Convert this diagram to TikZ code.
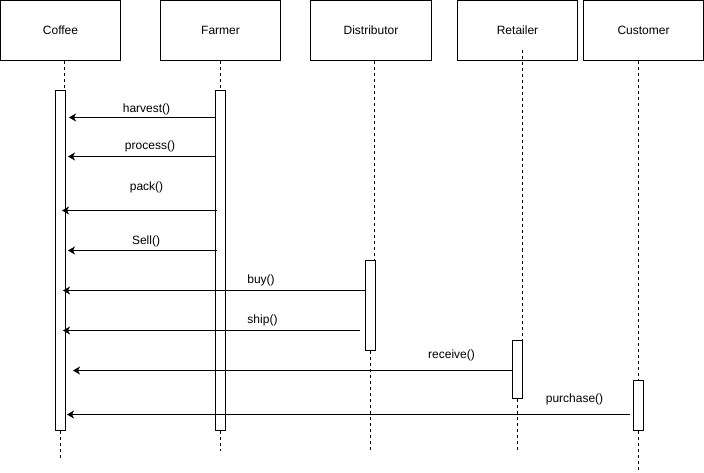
\documentclass[tikz,border=0pt]{standalone}
\usepackage{fontspec}
\setmainfont{Liberation Sans}
\usetikzlibrary{arrows.meta}

\tikzset{
  actor/.style={draw, minimum width=120pt, minimum height=60pt, inner sep=0pt},
  activation/.style={draw, fill=white, minimum width=10pt, inner sep=0pt},
  lifeline/.style={dash pattern=on 3pt off 3pt},
  msg/.style={-{Stealth[length=7pt,width=8pt,inset=2pt]}},
}

\begin{document}
\begin{tikzpicture}[x=1pt, y=-1pt, line width=1pt, font=\fontsize{12}{14}\selectfont]
    \useasboundingbox (-0.5,-0.5) rectangle (703.5,472.5);

    % Define nodes
    \node[actor] (Coffee) at (60,30) {Coffee};
    \node[actor] (Farmer) at (220,30) {Farmer};
    \node[actor, minimum width=121pt] (Distributor) at (370.5,30) {Distributor};
    \node[actor] (Retailer) at (517,30) {Retailer};
    \node[actor] (Customer) at (643,30) {Customer};

    \node[activation, minimum height=340pt] (CoffeeAct) at (60,260) {};
    \node[activation, minimum height=340pt] (FarmerAct) at (220,260) {};
    \node[activation, minimum height=90pt] (DistributorAct) at (370,305) {};
    \node[activation, minimum height=58pt] (RetailerAct) at (517,369) {};
    \node[activation, minimum height=50pt] (CustomerAct) at (638,405) {};

    % Lifeline ends
    \coordinate (CoffeeEnd) at (60,460);
    \coordinate (FarmerEnd) at (220,450);
    \coordinate (DistributorEnd) at (370,450);
    \coordinate (RetailerTop) at (522,50);
    \coordinate (RetailerEnd) at (517,450);
    \coordinate (CustomerEnd) at (638,470);

    % Draw lifelines
    \draw[lifeline] ([xshift=4pt]Coffee.south) -- ([xshift=4pt]CoffeeAct.north);
    \draw[lifeline] (CoffeeAct.south) -- (CoffeeEnd);
    \draw[lifeline] (Farmer.south) -- (FarmerAct.north);
    \draw[lifeline] (FarmerAct.south) -- (FarmerEnd);
    \draw[lifeline] (Distributor.south -| 374,0) -- (DistributorAct.north -| 374,0);
    \draw[lifeline] (DistributorAct.south) -- (DistributorEnd);
    \draw[lifeline] (RetailerTop) -- (RetailerAct.north -| RetailerTop);
    \draw[lifeline] (RetailerAct.south) -- (RetailerEnd);
    \draw[lifeline] (Customer.south -| CustomerAct) -- (CustomerAct.north);
    \draw[lifeline] (CustomerAct.south) -- (CustomerEnd);

    % Draw arrows
    \draw[msg, shorten >=3pt] (FarmerAct.west |- 0,117) -- (CoffeeAct.east |- 0,117);
    \draw[msg, shorten >=2pt] (FarmerAct.west |- 0,156) -- (CoffeeAct.east |- 0,156);
    \draw[msg, shorten >=-4pt, shorten <=-2pt] (FarmerAct.west |- 0,210) -- (CoffeeAct.east |- 0,210);
    \draw[msg, shorten >=2pt, shorten <=-2pt] (FarmerAct.west |- 0,250) -- (CoffeeAct.east |- 0,250);
    \draw[msg, shorten >=-3pt] (DistributorAct.west |- 0,290) -- (CoffeeAct.east |- 0,290);
    \draw[msg, shorten >=-3pt, shorten <=5pt] (DistributorAct.west |- 0,330) -- (CoffeeAct.east |- 0,330);
    \draw[msg, shorten >=7pt] (RetailerAct.west |- 0,370) -- (CoffeeAct.east |- 0,370);
    \draw[msg, shorten >=1pt, shorten <=3pt] (CustomerAct.west |- 0,414) -- (CoffeeAct.east |- 0,414);

    % Message labels
    \node (harvest) at (146,109) {harvest()};
    \node (process) at (149.5,146) {process()};
    \node (pack) at (146,187) {pack()};
    \node (sell) at (145.5,241) {Sell()};
    \node (buy) at (260.5,280) {buy()};
    \node (ship) at (262,320) {ship()};
    \node (receive) at (451,355) {receive()};
    \node (purchase) at (574,399) {purchase()};
\end{tikzpicture}
\end{document}
